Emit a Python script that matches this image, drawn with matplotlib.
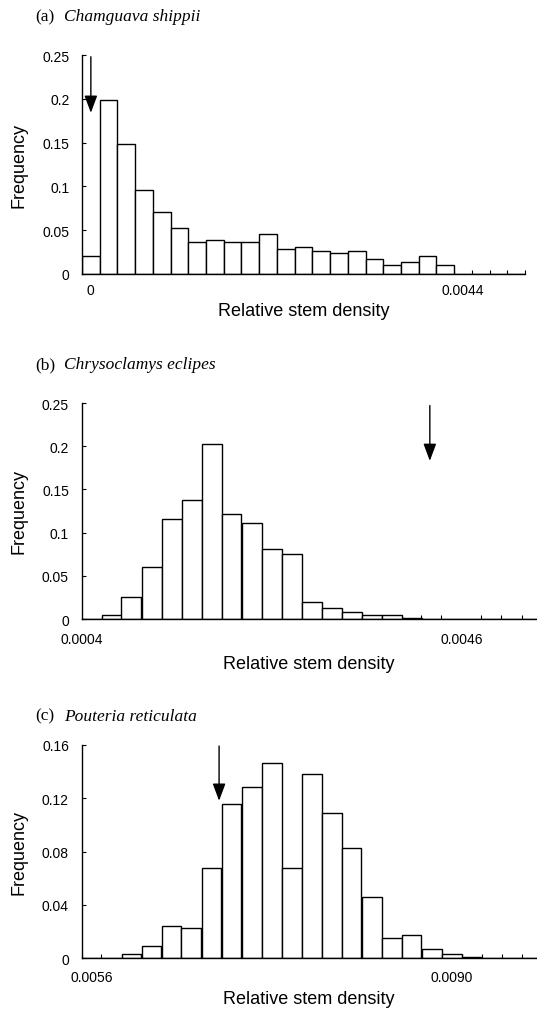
import numpy as np
import matplotlib
matplotlib.use("Agg")
import matplotlib.pyplot as plt

# ---------------- data ----------------
titles_tag = ["(a)", "(b)", "(c)"]
species = ["Chamguava shippii", "Chrysoclamys eclipes", "Pouteria reticulata"]

# Panel (a): bins centred on 0 ... 0.0044 (label at bin 0 and bin 21)
freq_a = [0.020, 0.199, 0.148, 0.096, 0.071, 0.053, 0.037, 0.039, 0.037, 0.036,
          0.046, 0.029, 0.031, 0.0265, 0.0235, 0.0265, 0.0174, 0.0106, 0.014, 0.021,
          0.010, 0, 0, 0, 0]
start_a, end_a, steps_a = 0.0, 0.0044, 21          # centre of bin 0 .. centre of bin 21
xticks_a = [0.0, 0.0044]
xticklabels_a = ["0", "0.0044"]
yticks_a = [0, 0.05, 0.1, 0.15, 0.2, 0.25]
yticklabels_a = ["0", "0.05", "0.1", "0.15", "0.2", "0.25"]
arrow_a = (0.0, 0.248, 0.184)

# Panel (b): bin edges, 0.0004 at edge 0, 0.0046 at edge 19
freq_b = [0.0005, 0.005, 0.026, 0.060, 0.116, 0.138, 0.203, 0.121, 0.111, 0.081,
          0.0755, 0.020, 0.0128, 0.0085, 0.0046, 0.0046, 0.0015, 0, 0, 0, 0, 0, 0]
start_b, end_b, steps_b = 0.0004, 0.0046, 19
xticks_b = [0.0004, 0.0046]
xticklabels_b = ["0.0004", "0.0046"]
yticks_b = [0, 0.05, 0.1, 0.15, 0.2, 0.25]
yticklabels_b = ["0", "0.05", "0.1", "0.15", "0.2", "0.25"]
arrow_b = (0.00425, 0.247, 0.183)

# Panel (c): bins centred, 0.0056 at bin 0 and 0.0090 at bin 18
freq_c = [0, 0, 0.0035, 0.009, 0.024, 0.023, 0.0677, 0.1156, 0.128, 0.146,
          0.0677, 0.138, 0.109, 0.0826, 0.046, 0.0155, 0.0177, 0.0067, 0.003, 0.0007,
          0.0005, 0.0005, 0.0005]
start_c, end_c, steps_c = 0.0056, 0.0090, 18
xticks_c = [0.0056, 0.0090]
xticklabels_c = ["0.0056", "0.0090"]
yticks_c = [0, 0.04, 0.08, 0.12, 0.16]
yticklabels_c = ["0", "0.04", "0.08", "0.12", "0.16"]
arrow_c = (0.006805, 0.159, 0.118)

xlabel = "Relative stem density"
ylabel = "Frequency"

# ---------------- figure ----------------
W, H = 537, 1012
fig = plt.figure(figsize=(W / 100, H / 100), dpi=100)
SANS = ["Liberation Sans", "DejaVu Sans"]
SERIF = ["Liberation Serif", "DejaVu Serif"]

def fx(px):
    return px / W

def fy(py):
    return 1 - py / H

panels = [
    dict(freq=freq_a, start=start_a, end=end_a, steps=steps_a, centred=True,
         xt=xticks_a, xtl=xticklabels_a, yt=yticks_a, ytl=yticklabels_a, arrow=arrow_a,
         px=(82, 525, 56, 275), title_y=17, xlab_y=312, xpad=6.8, ytop=0.25),
    dict(freq=freq_b, start=start_b, end=end_b, steps=steps_b, centred=False,
         xt=xticks_b, xtl=xticklabels_b, yt=yticks_b, ytl=yticklabels_b, arrow=arrow_b,
         px=(81.5, 541.5, 404, 620), title_y=365, xlab_y=665, xpad=9.0, ytop=0.25),
    dict(freq=freq_c, start=start_c, end=end_c, steps=steps_c, centred=True,
         xt=xticks_c, xtl=xticklabels_c, yt=yticks_c, ytl=yticklabels_c, arrow=arrow_c,
         px=(81.5, 541.5, 745.7, 959.3), title_y=716.7, xlab_y=1000, xpad=8.6, ytop=0.16),
]

for i, p in enumerate(panels):
    x0, x1, y0, y1 = p["px"]
    ax = fig.add_axes([fx(x0), fy(y1), (x1 - x0) / W, (y1 - y0) / H])
    n = len(p["freq"])
    w = (p["end"] - p["start"]) / p["steps"]
    left0 = p["start"] - w / 2 if p["centred"] else p["start"]
    lefts = left0 + w * np.arange(n)
    ax.bar(lefts, p["freq"], width=w, align="edge", color="white",
           edgecolor="black", linewidth=1.0, zorder=2)
    ax.set_xlim(left0, left0 + n * w)
    ax.set_ylim(0, p["ytop"])

    for s in ["top", "right"]:
        ax.spines[s].set_visible(False)
    for s in ["left", "bottom"]:
        ax.spines[s].set_linewidth(1.0)
        ax.spines[s].set_zorder(3)

    ax.set_yticks(p["yt"])
    ax.set_yticklabels(p["ytl"], fontsize=10, family=SANS)
    ax.tick_params(axis="y", direction="in", length=3, width=0.8, pad=9)

    ax.set_xticks(p["xt"])
    ax.set_xticklabels(p["xtl"], fontsize=10, family=SANS)
    ax.set_xticks(left0 + w * np.arange(n + 1), minor=True)
    ax.tick_params(axis="x", which="major", length=0, pad=p["xpad"])
    ax.tick_params(axis="x", which="minor", direction="in", length=3, width=0.8)

    ax.set_xlabel(xlabel, fontsize=13, family=SANS, va="center")
    ax.xaxis.set_label_coords(0.5 * (x0 + x1) / W if i == 0 else fx(309),
                              fy(p["xlab_y"]), transform=fig.transFigure)
    ax.set_ylabel(ylabel, fontsize=13, family=SANS, va="center")
    ax.yaxis.set_label_coords(fx(19), fy(0.5 * (y0 + y1)), transform=fig.transFigure)

    xa, ytop_arrow, ytip = p["arrow"]
    ax.annotate("", xy=(xa, ytip), xytext=(xa, ytop_arrow),
                arrowprops=dict(arrowstyle="-|>,head_width=0.28,head_length=0.75",
                                color="black", lw=1.0, shrinkA=0, shrinkB=0,
                                mutation_scale=14),
                annotation_clip=False, zorder=5)

    fig.text(fx(35), fy(p["title_y"]), titles_tag[i], fontsize=12.5, family=SERIF,
             va="center", ha="left")
    fig.text(fx(64), fy(p["title_y"]), species[i], fontsize=12.5, family=SERIF,
             style="italic", va="center", ha="left")

fig.savefig("out.png", dpi=100)
